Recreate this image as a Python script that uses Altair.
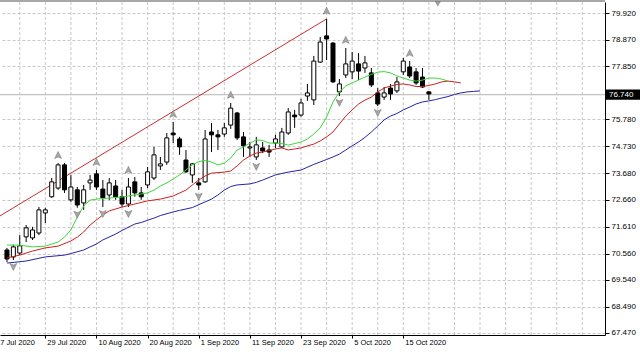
import altair as alt
import pandas as pd

# ---- daily candles, 21 Jul 2020 .. 21 Oct 2020 (index 0..66) ----
opens = [70.70, 70.43, 70.58, 71.21, 71.17, 71.36, 72.14, 72.77, 73.11, 74.01,
         72.65, 73.04, 72.53, 73.31, 73.66, 73.07, 72.84, 73.19, 72.77, 72.49,
         73.35, 72.92, 73.23, 73.50, 73.97, 74.12, 75.25, 75.02, 74.20, 73.62,
         73.31, 73.35, 75.29, 75.18, 75.21, 75.56, 76.03, 75.10, 74.67, 74.32,
         74.67, 74.59, 74.86, 74.71, 75.25, 75.95, 75.95, 76.69, 76.54, 78.01,
         79.03, 78.75, 76.85, 77.51, 77.63, 77.94, 77.78, 77.59, 76.81, 76.65,
         77.00, 76.89, 77.63, 77.82, 77.63, 77.43, 76.85]
highs = [70.78, 70.90, 71.28, 71.67, 71.60, 72.37, 72.34, 73.50, 74.08, 74.08,
         73.62, 73.15, 73.23, 73.62, 73.81, 73.42, 73.50, 73.42, 73.04, 73.50,
         73.54, 73.15, 73.93, 74.71, 74.32, 75.25, 75.68, 75.10, 74.59, 74.08,
         73.50, 75.37, 75.64, 75.37, 75.64, 76.42, 76.07, 75.29, 74.90, 75.10,
         74.90, 74.79, 75.18, 75.45, 76.22, 76.15, 76.58, 77.16, 78.25, 78.99,
         79.69, 78.79, 77.35, 78.56, 78.40, 78.36, 78.25, 77.78, 77.00, 77.04,
         77.16, 77.43, 78.17, 78.05, 77.78, 77.78, 76.89]
lows = [70.23, 70.31, 70.51, 71.01, 71.09, 71.28, 71.75, 72.73, 73.04, 72.92,
        72.57, 72.34, 72.26, 73.04, 73.04, 72.37, 72.65, 72.65, 72.37, 72.37,
        72.77, 72.65, 73.11, 73.42, 73.81, 74.01, 74.86, 74.40, 73.70, 73.31,
        73.04, 73.31, 74.51, 74.59, 75.10, 75.41, 74.98, 74.32, 74.32, 74.20,
        74.47, 74.32, 74.67, 74.67, 75.18, 75.45, 75.88, 76.50, 76.34, 77.98,
        78.09, 77.20, 76.69, 77.39, 77.35, 77.31, 77.59, 77.04, 76.30, 76.54,
        76.54, 76.81, 77.51, 77.39, 77.12, 77.00, 76.54]
closes = [70.35, 70.82, 70.86, 71.56, 71.48, 72.26, 72.26, 73.35, 74.01, 73.04,
          73.15, 72.45, 73.04, 73.42, 73.15, 72.73, 73.31, 72.77, 72.49, 73.15,
          72.92, 72.77, 73.74, 74.40, 74.05, 75.06, 75.18, 74.71, 73.74, 74.05,
          73.23, 75.02, 75.18, 75.10, 75.45, 76.22, 75.06, 74.75, 74.71, 74.79,
          74.55, 74.51, 75.02, 75.29, 76.07, 75.88, 76.42, 76.81, 78.05, 78.79,
          78.91, 77.24, 77.16, 77.94, 78.05, 77.66, 77.98, 77.12, 76.38, 76.81,
          76.77, 77.24, 78.05, 77.47, 77.20, 77.04, 76.77]

# ---- Alligator lines (bar index -> price) ----
lips_idx = [0, 2, 4, 6, 8, 9, 10, 11, 12, 13, 14, 16, 18, 20, 22] + list(range(23, 70))
lips_val = [70.89, 70.89, 70.82, 70.85, 71.01, 71.20, 71.48, 71.98, 72.41, 72.64, 72.68,
            72.72, 72.76, 72.84, 72.92,
            73.03, 73.19, 73.31, 73.46, 73.62, 73.81, 74.01, 74.14, 74.18, 74.12,
            74.01, 74.08, 74.28, 74.59, 74.71, 74.86, 74.98, 74.96, 74.86, 74.86,
            74.84, 74.78, 74.84, 74.90, 75.02, 75.21, 75.45, 75.87, 76.46, 76.85,
            77.08, 77.20, 77.31, 77.43, 77.53, 77.62, 77.64, 77.59, 77.47, 77.39,
            77.31, 77.27, 77.31, 77.39, 77.39, 77.35, 77.27]
teeth_idx = [0, 2, 4, 6, 8, 10, 11, 12, 13, 14, 15, 16, 18, 20, 22, 24, 26, 28,
             29, 30, 31, 32, 34, 35, 36, 37, 38, 39, 40] + list(range(42, 72))
teeth_val = [70.39, 70.50, 70.66, 70.78, 70.85, 71.05, 71.20, 71.40, 71.67, 71.87,
             72.06, 72.22, 72.37, 72.49, 72.61, 72.68, 72.80, 73.03, 73.23, 73.42,
             73.58, 73.69, 73.73, 73.77, 73.97, 74.20, 74.36, 74.47, 74.51,
             74.63, 74.67, 74.59, 74.63, 74.67, 74.75, 74.82, 74.94, 75.10, 75.29,
             75.60, 75.91, 76.15, 76.38, 76.53, 76.65, 76.85, 77.00, 77.08, 77.14,
             77.16, 77.12, 77.06, 77.06, 77.10, 77.16, 77.24, 77.27, 77.24, 77.20]
jaw_idx = [0, 3, 6, 9, 10, 12, 13, 14, 15, 17, 18, 20, 21, 23, 24, 26, 27, 29,
           31, 32, 33, 34, 35, 36, 38, 39, 40, 41, 42, 44, 46, 48] + list(range(50, 75))
jaw_val = [70.19, 70.27, 70.43, 70.50, 70.56, 70.70, 70.82, 70.93, 71.09, 71.32,
           71.46, 71.71, 71.77, 71.94, 72.04, 72.18, 72.24, 72.35, 72.57, 72.68,
           72.84, 73.03, 73.17, 73.23, 73.27, 73.33, 73.42, 73.52, 73.62, 73.73,
           73.81, 74.03,
           74.22, 74.32, 74.43, 74.59, 74.75, 74.90, 75.08, 75.29, 75.52, 75.76,
           75.91, 76.01, 76.15, 76.26, 76.38, 76.46, 76.50, 76.55, 76.61, 76.67,
           76.75, 76.81, 76.85, 76.87, 76.89]

# ---- trend line, fractals, labels ----
trend_idx = [-2, 50]
trend_val = [71.89, 79.69]
frac_up_idx = [8, 14, 19, 26, 35, 50, 53, 63]
frac_dn_idx = [1, 11, 15, 19, 30, 39, 52, 58]
tick_idx = [-2, 6, 14, 22, 30, 38, 46, 54, 62]
tick_lab = ["17 Jul 2020", "29 Jul 2020", "10 Aug 2020", "20 Aug 2020", "1 Sep 2020",
            "11 Sep 2020", "23 Sep 2020", "5 Oct 2020", "15 Oct 2020"]
grid_idx = list(range(2, 91, 4))
price_labels = [79.92, 78.87, 77.85, 75.78, 74.73, 73.68, 72.66, 71.61, 70.56,
                69.54, 68.49, 67.47]
last_price = [76.74]
shift_idx = [67.4]

assert len(lips_idx) == len(lips_val)
assert len(teeth_idx) == len(teeth_val)
assert len(jaw_idx) == len(jaw_val)

df = pd.DataFrame({"i": list(range(len(opens))), "open": opens, "high": highs,
                   "low": lows, "close": closes})
df["bull"] = df["close"] >= df["open"]

W, H = 605, 333
FONT = "Liberation Sans"
xs = alt.Scale(domain=[-0.3077, 92.769], nice=False, zero=False)
ys = alt.Scale(domain=[67.392, 80.348], nice=False, zero=False)
xaxis = alt.Axis(values=tick_idx, labels=False, grid=False, domain=True,
                 domainColor="black", ticks=True, tickColor="black", tickSize=3,
                 title=None)
yaxis = alt.Axis(orient="right", values=price_labels, format=".3f", grid=True,
                 gridColor="#c8c8c8", gridDash=[3, 2], domainColor="black",
                 tickColor="black", tickSize=4, labelFontSize=8, labelColor="black",
                 labelFont=FONT, labelPadding=2, title=None, labelFlush=False,
                 labelOverlap=False)


def X(field="i"):
    return alt.X(f"{field}:Q", scale=xs, axis=xaxis)


def Y(field):
    return alt.Y(f"{field}:Q", scale=ys, axis=yaxis)


vgrid = alt.Chart(pd.DataFrame({"i": grid_idx})).mark_rule(
    color="#c8c8c8", strokeDash=[3, 2], strokeWidth=1
).encode(x=X(), y=alt.value(0), y2=alt.value(H))

pline = alt.Chart(pd.DataFrame({"p": last_price})).mark_rule(
    color="#b4b4b4", strokeWidth=1
).encode(y=Y("p"))

trend = alt.Chart(pd.DataFrame({"i": trend_idx, "p": trend_val})).mark_line(
    color="#cc3030", strokeWidth=1, clip=True
).encode(x=X(), y=Y("p"))

wicks = alt.Chart(df).mark_rule(color="black", strokeWidth=1).encode(
    x=X(), y=Y("low"), y2="high:Q")

bodies = alt.Chart(df).mark_bar(size=4, stroke="black", strokeWidth=1).encode(
    x=X(), y=Y("open"), y2="close:Q",
    fill=alt.condition("datum.bull", alt.value("white"), alt.value("black")))


def ma(idx, val, color):
    return alt.Chart(pd.DataFrame({"i": idx, "p": val})).mark_line(
        color=color, strokeWidth=1).encode(x=X(), y=Y("p"))


jaw = ma(jaw_idx, jaw_val, "#2424a8")
teeth = ma(teeth_idx, teeth_val, "#cc2020")
lips = ma(lips_idx, lips_val, "#3ad83a")

UP = "M0,-2.9L0.85,-1.15L0,-1.55L-0.85,-1.15Z"
DN = "M0,2.6L0.85,0.85L0,1.25L-0.85,0.85Z"
fup = alt.Chart(df[df["i"].isin(frac_up_idx)]).mark_point(
    shape=UP, size=64, filled=True, fill="#a8a8a8", stroke="#7a7a7a",
    strokeWidth=0.6, opacity=1
).encode(x=X(), y=Y("high"))
fdn = alt.Chart(df[df["i"].isin(frac_dn_idx)]).mark_point(
    shape=DN, size=64, filled=True, fill="#a8a8a8", stroke="#7a7a7a",
    strokeWidth=0.6, opacity=1
).encode(x=X(), y=Y("low"))

shift = alt.Chart(pd.DataFrame({"i": shift_idx})).mark_point(
    shape="triangle-down", size=40, filled=True, color="#a0a0a0", opacity=1
).encode(x=X(), y=alt.value(2))

topline = alt.Chart(pd.DataFrame({"a": [0]})).mark_rule(
    color="#505050", strokeWidth=1
).encode(x=alt.value(0), x2=alt.value(W), y=alt.value(-1))

dlabels = alt.Chart(pd.DataFrame({"i": tick_idx, "t": tick_lab})).mark_text(
    align="left", baseline="middle", dx=2, fontSize=7.5, font=FONT, color="black"
).encode(x=X(), y=alt.value(H + 8), text="t:N")

lp = pd.DataFrame({"p": last_price})
pbox = alt.Chart(lp).transform_calculate(
    top="datum.p + 0.2", bot="datum.p - 0.2"
).mark_rect(color="black").encode(
    x=alt.value(W + 1), x2=alt.value(W + 35), y=Y("top"), y2="bot:Q")
ptext = alt.Chart(lp).mark_text(
    align="left", baseline="middle", fontSize=8, font=FONT, color="white"
).encode(x=alt.value(W + 4), y=Y("p"), text=alt.Text("p:Q", format=".3f"))

chart = alt.layer(
    vgrid, pline, trend, wicks, bodies, jaw, teeth, lips, fup, fdn, shift,
    topline, dlabels, pbox, ptext
).properties(
    width=W, height=H,
    autosize=alt.AutoSizeParams(type="none"),
    padding={"left": 0, "top": 2, "right": 35, "bottom": 19},
    background="white",
).configure_view(stroke=None)

chart.save("out.html", embed_options={"renderer": "svg", "actions": False})
